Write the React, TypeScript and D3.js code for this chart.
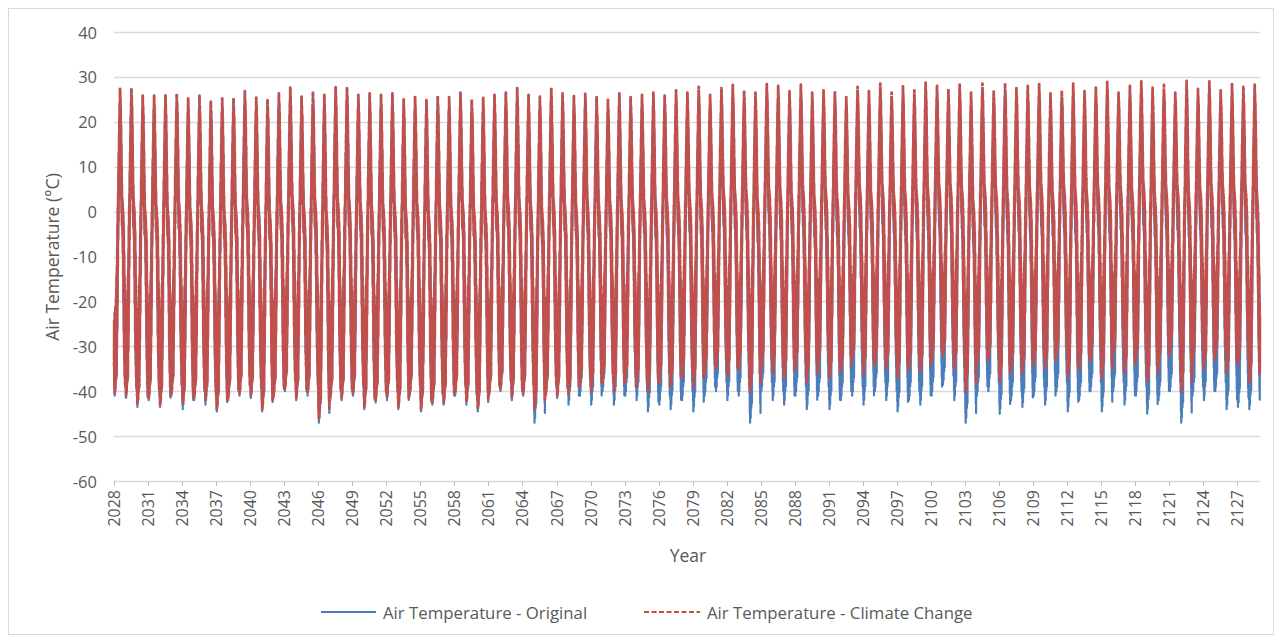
import React from "react";
import * as d3 from "d3";

// Years covered by the series (one annual cycle per year)
const years: number[] = d3.range(2028, 2129);

// Red series (Climate Change): annual peak and winter minimum (°C)
const ccMax: number[] = [
  27.3, 27.5, 25.8, 25.8, 25.9, 26.3, 25.2, 25.8, 24.5, 25.2,
  25.3, 26.8, 25.4, 25.1, 26.3, 27.6, 25.6, 26.8, 26.0, 27.7,
  27.8, 26.0, 26.3, 26.0, 26.3, 25.0, 25.5, 24.8, 25.8, 25.5,
  26.5, 25.0, 25.3, 26.0, 26.5, 27.5, 26.0, 25.6, 27.6, 26.3,
  25.7, 26.2, 25.5, 24.9, 26.3, 25.5, 26.0, 26.5, 25.8, 27.0,
  26.5, 27.8, 26.0, 27.5, 28.2, 27.0, 26.5, 28.4, 28.0, 26.8,
  28.3, 26.5, 27.0, 26.8, 25.5, 27.8, 26.8, 28.5, 26.5, 27.9,
  27.0, 28.7, 28.0, 27.3, 28.3, 26.5, 28.5, 27.0, 28.7, 27.5,
  28.0, 28.4, 26.3, 27.0, 28.5, 26.8, 27.6, 28.9, 26.5, 28.0,
  29.0, 27.6, 28.2, 26.5, 29.1, 27.3, 29.0, 27.0, 28.4, 27.8,
  28.3,
];
const ccMin: number[] = [
  -40.5, -41, -43, -41.5, -43, -40.5, -43, -41.5, -42, -44,
  -41.5, -40.5, -41, -44, -41, -39.5, -41.5, -40.5, -46, -41.5,
  -41.5, -40.5, -43.5, -42, -41.5, -43.5, -40.5, -44, -42.5, -42.5,
  -40.5, -42.5, -44, -40.5, -39.5, -41.5, -40.5, -44, -40.5, -41,
  -41, -39, -40, -38, -40, -38, -39, -40, -38, -39,
  -37, -39, -36, -35, -37, -35, -40, -35, -36, -37,
  -35, -38, -34, -37, -36, -33, -36, -34, -35, -37,
  -35, -36, -33, -32, -35, -40, -34, -33, -38, -35,
  -36, -34, -35, -32, -37, -35, -33, -37, -32, -36,
  -33, -38, -34, -31, -40, -33, -35, -32, -36, -34,
  -38,
];

// Blue series (Original): annual peak and winter minimum (°C)
const origMax: number[] = [
  27.0, 27.2, 25.5, 25.6, 25.5, 26.0, 25.0, 25.5, 24.3, 25.0,
  25.0, 26.4, 25.2, 24.8, 26.0, 27.2, 25.3, 26.5, 25.7, 27.3,
  27.4, 25.7, 26.0, 25.7, 26.0, 24.7, 25.2, 24.5, 25.4, 25.2,
  26.0, 24.6, 25.0, 25.6, 26.0, 27.0, 25.6, 25.2, 27.0, 25.8,
  25.2, 25.6, 25.0, 24.4, 25.7, 25.0, 25.4, 25.8, 25.2, 26.3,
  25.8, 27.0, 25.3, 26.7, 27.3, 26.2, 25.7, 27.5, 27.1, 26.0,
  27.3, 25.6, 26.1, 25.9, 24.6, 26.8, 25.8, 27.5, 25.5, 26.8,
  26.0, 27.6, 26.9, 26.2, 27.2, 25.4, 27.4, 25.9, 27.5, 26.3,
  26.8, 27.2, 25.1, 25.8, 27.3, 25.6, 26.4, 27.6, 25.3, 26.8,
  27.7, 26.4, 27.0, 25.3, 27.8, 26.0, 27.7, 25.8, 27.1, 26.5,
  27.0,
];
const origMin: number[] = [
  -41, -41.5, -43.5, -42, -43.5, -41, -44, -42, -43, -44.5,
  -42, -41, -41.5, -44.5, -41.5, -40, -42, -41, -47, -42,
  -42, -41, -44, -42.5, -42, -44, -41, -44.5, -43, -43,
  -41, -43, -44.5, -41, -40, -42, -41, -47, -41, -41.5,
  -43, -41, -43, -40, -43, -41, -42, -44.5, -43, -44,
  -42, -44.5, -41, -40, -42, -41, -47, -40, -42, -43,
  -41, -44, -41, -44, -42, -41, -43, -40, -42, -44.5,
  -42, -43, -41, -38.5, -42, -47, -41, -40, -45, -42,
  -43.5, -41, -43, -40, -44.5, -42, -40, -44.5, -40, -43,
  -41, -45, -42, -40, -47, -41, -42, -40, -44, -43.5,
  -44,
];

const yearProfile: number[] = [
  -34, -24, -38, -27, -40, -22, -36, -30,
  -39, -21, -35, -26, -37, -19,
  -33, -17, -36, -14, -30, -12,
  -26, -8, -20, -3, -12, 1,
  -6, 4, -2, 9, 3, 13,
  6, 17, 9, 21, 12, 24,
  15, 27, 17, 25, 13, 23,
  10, 19, 6, 15, 3, 10,
  0, 6, -3, 3, -2, 2,
  -5, 1, -9, 0, -14, -2,
  -20, -4, -26, -9, -30, -14,
  -33, -16, -36, -22, -38, -25,
];

const yTicks: number[] = [40, 30, 20, 10, 0, -10, -20, -30, -40, -50, -60];
const xTicks: number[] = d3.range(2028, 2128, 3);

const FONT = "'Open Sans', 'Liberation Sans', sans-serif";
const TEXT = "#595959";
const BLUE = "#4A7EBB";
const RED = "#C0504D";

function buildSeries(maxs: number[], mins: number[]) {
  const pMin = d3.min(yearProfile) as number;
  const pMax = d3.max(yearProfile) as number;
  const n = yearProfile.length;
  const pts: [number, number][] = [];
  years.forEach((yr, i) => {
    yearProfile.forEach((p, j) => {
      const f = (p - pMin) / (pMax - pMin);
      pts.push([yr + (j + 0.5) / n, mins[i] + f * (maxs[i] - mins[i])]);
    });
  });
  return pts;
}

export default function App() {
  const x = d3.scaleLinear().domain([2028, 2129]).range([114, 1260]);
  const y = d3.scaleLinear().domain([-60, 40]).range([481, 32]);
  const line = d3
    .line<[number, number]>()
    .x((d) => x(d[0]))
    .y((d) => y(d[1]));

  const orig = buildSeries(origMax, origMin);
  const cc = buildSeries(ccMax, ccMin);

  return (
    <svg
      width={1282}
      height={641}
      style={{ position: "absolute", left: 0, top: 0, background: "#fff" }}
    >
      <rect x={0} y={0} width={1282} height={641} fill="#fff" />
      <rect x={8.5} y={8.5} width={1265} height={626} fill="none" stroke="#d9d9d9" strokeWidth={1} />

      {/* gridlines */}
      {yTicks.map((t) => (
        <line
          key={t}
          x1={x(2028)}
          x2={x(2129)}
          y1={Math.round(y(t)) + 0.5}
          y2={Math.round(y(t)) + 0.5}
          stroke="#d9d9d9"
          strokeWidth={1.5}
        />
      ))}

      {/* x axis ticks */}
      {xTicks.map((t) => (
        <line
          key={t}
          x1={Math.round(x(t)) + 0.5}
          x2={Math.round(x(t)) + 0.5}
          y1={481}
          y2={486}
          stroke="#bfbfbf"
          strokeWidth={1}
        />
      ))}

      {/* series */}
      <path d={line(orig) || ""} fill="none" stroke={BLUE} strokeWidth={2.2} strokeLinejoin="round" />
      <path d={line(cc) || ""} fill="none" stroke={RED} strokeWidth={2.8} strokeDasharray="5,1" strokeLinejoin="round" />

      {/* y tick labels */}
      {yTicks.map((t) => (
        <text
          key={t}
          x={97}
          y={y(t)}
          textAnchor="end"
          dominantBaseline="central"
          fontFamily={FONT}
          fontSize={16.5}
          fill={TEXT}
        >
          {t}
        </text>
      ))}

      {/* x tick labels */}
      {xTicks.map((t) => (
        <text
          key={t}
          transform={`translate(${x(t)},490) rotate(-90)`}
          textAnchor="end"
          dominantBaseline="central"
          fontFamily={FONT}
          fontSize={16}
          fill={TEXT}
        >
          {t}
        </text>
      ))}

      {/* axis titles */}
      <text
        transform="translate(52,257) rotate(-90)"
        textAnchor="middle"
        dominantBaseline="central"
        fontFamily={FONT}
        fontSize={17.5}
        fill={TEXT}
      >
        Air Temperature (°C)
      </text>
      <text x={688} y={555} textAnchor="middle" dominantBaseline="central" fontFamily={FONT} fontSize={17.5} fill={TEXT}>
        Year
      </text>

      {/* legend */}
      <line x1={321} x2={376} y1={612} y2={612} stroke={BLUE} strokeWidth={2} />
      <text x={383} y={612} dominantBaseline="central" fontFamily={FONT} fontSize={16.8} fill={TEXT}>
        Air Temperature - Original
      </text>
      <line x1={644} x2={700} y1={612} y2={612} stroke={RED} strokeWidth={2} strokeDasharray="5,2.5" />
      <text x={707} y={612} dominantBaseline="central" fontFamily={FONT} fontSize={16.8} fill={TEXT}>
        Air Temperature - Climate Change
      </text>
    </svg>
  );
}
